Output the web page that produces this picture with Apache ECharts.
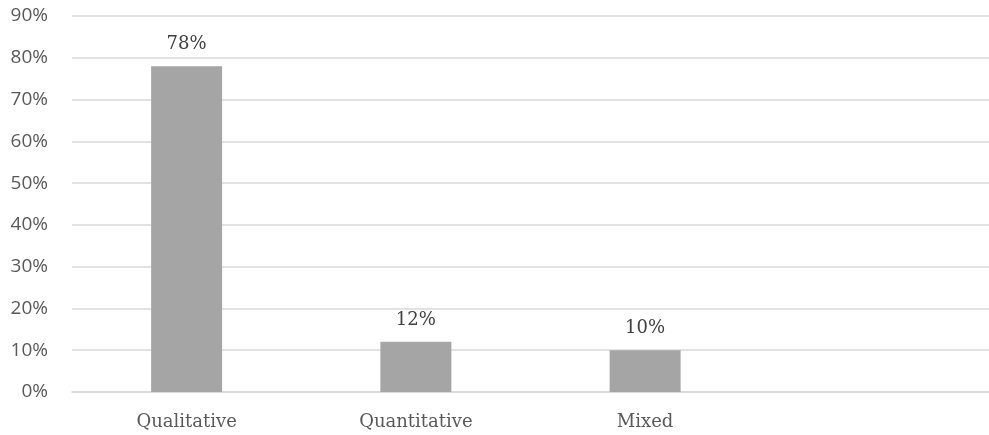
<!DOCTYPE html>
<html>
<head>
<meta charset="utf-8">
<script src="https://cdn.jsdelivr.net/npm/echarts@6/dist/echarts.min.js"></script>
<style>
  html, body { margin: 0; padding: 0; background: #ffffff; }
  #chart { width: 989px; height: 435px; }
</style>
</head>
<body>
<div id="chart"></div>
<script>
// Research approach breakdown (share of studies, %)
const categories = ['Qualitative', 'Quantitative', 'Mixed', ''];
const shares = [78, 12, 10, null];
const yTicks = [0, 10, 20, 30, 40, 50, 60, 70, 80, 90];

const serif = "'DejaVu Serif', serif";

const chart = echarts.init(document.getElementById('chart'));
chart.setOption({
  animation: false,
  grid: { left: 72, right: 0, top: 16, bottom: 43 },
  xAxis: {
    type: 'category',
    data: categories,
    axisLine: { show: true, lineStyle: { color: '#d9d9d9', width: 1.5 } },
    axisTick: { show: false },
    axisLabel: {
      color: '#595959',
      fontFamily: serif,
      fontSize: 18,
      margin: 21
    }
  },
  yAxis: {
    type: 'value',
    min: yTicks[0],
    max: yTicks[yTicks.length - 1],
    interval: 10,
    axisLine: { show: false },
    axisTick: { show: false },
    splitLine: { lineStyle: { color: '#d9d9d9', width: 1.5 } },
    axisLabel: {
      color: '#595959',
      fontFamily: "'Open Sans', sans-serif",
      fontSize: 19,
      margin: 24,
      formatter: v => v + '%'
    }
  },
  series: [{
    type: 'bar',
    data: shares,
    barWidth: 71,
    itemStyle: { color: '#a5a5a5' },
    label: {
      show: true,
      position: 'top',
      distance: 13,
      color: '#404040',
      fontFamily: serif,
      fontSize: 18,
      formatter: p => p.value + '%'
    }
  }]
});
</script>
</body>
</html>
